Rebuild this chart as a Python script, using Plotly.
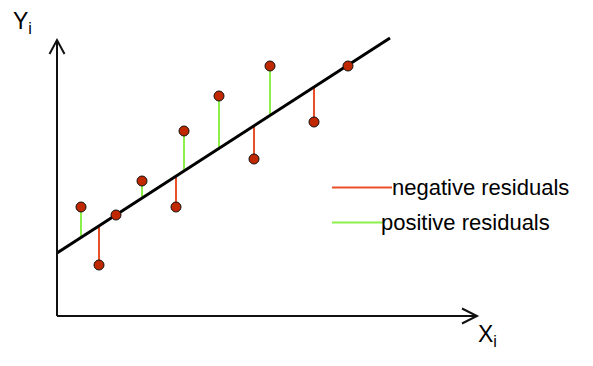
import plotly.graph_objects as go

# data (arbitrary units)
x_vals = [2.4, 4.2, 5.9, 8.5, 11.9, 12.7, 16.2, 19.7, 21.3, 25.7, 29.1]
y_vals = [10.9, 5.1, 10.1, 13.5, 10.9, 18.5, 22.0, 15.7, 25.0, 19.4, 25.0]
intercept = 6.3
slope = 0.6456
line_x = [0.0, 33.3]
legend_labels = ["negative residuals", "positive residuals"]
axis_labels = ["X<sub>i</sub>", "Y<sub>i</sub>"]

RED = "#e8502a"
GREEN = "#8cf04a"
FONT = "Liberation Sans, Arial, sans-serif"

fitted = [intercept + slope * x for x in x_vals]
pos_x, pos_y, neg_x, neg_y = [], [], [], []
for x, y, f in zip(x_vals, y_vals, fitted):
    if y - f > 0.3:
        pos_x += [x, x, None]
        pos_y += [f, y, None]
    elif f - y > 0.3:
        neg_x += [x, x, None]
        neg_y += [f, y, None]

fig = go.Figure()
fig.add_trace(go.Scatter(x=pos_x, y=pos_y, mode="lines",
                         line=dict(color=GREEN, width=2), hoverinfo="skip"))
fig.add_trace(go.Scatter(x=neg_x, y=neg_y, mode="lines",
                         line=dict(color=RED, width=2), hoverinfo="skip"))
fig.add_trace(go.Scatter(x=line_x, y=[intercept + slope * v for v in line_x],
                         mode="lines", line=dict(color="black", width=3)))
fig.add_trace(go.Scatter(x=x_vals, y=y_vals, mode="markers",
                         marker=dict(size=10, color="#c02800",
                                     line=dict(color="#111111", width=1))))

# axes with arrows
ax_col = "#111111"
shapes = [
    dict(type="line", x0=0, y0=0, x1=0, y1=27.5, line=dict(color=ax_col, width=2)),
    dict(type="line", x0=0, y0=0, x1=41.9, y1=0, line=dict(color=ax_col, width=2)),
    dict(type="path", path="M -0.75,26.2 L 0,27.6 L 0.75,26.2",
         line=dict(color=ax_col, width=2)),
    dict(type="path", path="M 40.5,0.75 L 42.0,0 L 40.5,-0.75",
         line=dict(color=ax_col, width=2)),
    # legend lines
    dict(type="line", x0=27.5, y0=12.85, x1=33.5, y1=12.85, line=dict(color=RED, width=2)),
    dict(type="line", x0=27.5, y0=9.35, x1=32.6, y1=9.35, line=dict(color=GREEN, width=2)),
]

annotations = [
    dict(x=33.3, y=12.85, text=legend_labels[0], showarrow=False,
         xanchor="left", yanchor="middle", font=dict(family=FONT, size=22, color="black")),
    dict(x=32.2, y=9.35, text=legend_labels[1], showarrow=False,
         xanchor="left", yanchor="middle", font=dict(family=FONT, size=22, color="black")),
    dict(x=41.9, y=-1.9, text=axis_labels[0], showarrow=False,
         xanchor="left", yanchor="middle", font=dict(family=FONT, size=23, color="black")),
    dict(x=-4.6, y=29.4, text=axis_labels[1], showarrow=False,
         xanchor="left", yanchor="middle", font=dict(family=FONT, size=23, color="black")),
]

fig.update_layout(
    width=593, height=366,
    margin=dict(l=0, r=0, t=0, b=0),
    paper_bgcolor="white", plot_bgcolor="white",
    showlegend=False,
    xaxis=dict(range=[-5.7, 53.6], visible=False, fixedrange=True),
    yaxis=dict(range=[-5.0, 31.6], visible=False, fixedrange=True),
    shapes=shapes, annotations=annotations,
)

fig.write_html("out.html", config={"displayModeBar": False},
               post_script="document.body.style.margin='0';")
